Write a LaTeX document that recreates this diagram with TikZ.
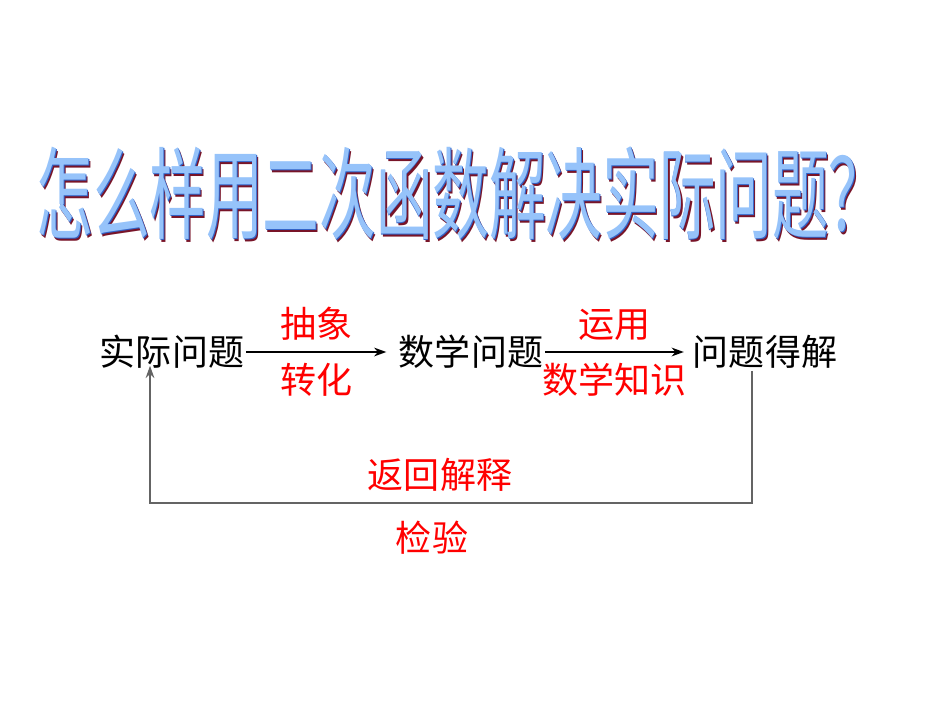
\documentclass[tikz,border=0pt]{standalone}
\usepackage{fontspec}
\setmainfont{Noto Sans CJK SC}
\usetikzlibrary{positioning, arrows.meta}
\definecolor{titleblue}{RGB}{150,195,250}
\definecolor{titleedge}{RGB}{50,100,200}
\definecolor{titleshade}{RGB}{120,20,40}
\definecolor{loopgray}{RGB}{100,100,100}
% word-art heading: dark red shade, blue rim, light blue face, all in one box
\newcommand{\wordart}[1]{%
  \makebox[0pt][l]{\hspace{0.07cm}\raisebox{-0.07cm}{\textcolor{titleshade}{#1}}}%
  \makebox[0pt][l]{\hspace{0.03cm}\raisebox{-0.03cm}{\textcolor{titleedge}{#1}}}%
  \textcolor{titleblue}{#1}}
\tikzset{
  >={Stealth[length=7pt,width=5pt]}, % small solid arrow heads
  stage/.style={font=\fontsize{20.5pt}{24pt}\selectfont, inner sep=1pt}, % the three problem boxes
  how/.style={font=\fontsize{20.5pt}{24pt}\selectfont, text=red, inner sep=6pt}, % red labels on the arrows
  title/.style={font=\fontsize{57pt}{60pt}\selectfont, xscale=0.565, inner sep=0pt}, % the word-art heading
}

\begin{document}
\begin{tikzpicture}[x=0.02cm, y=-0.02cm]
  \useasboundingbox (0,0) rectangle (950,713);

  % heading
  \node[title] (head) at (461,195) {\wordart{怎么样用二次函数解决实际问题？}};

  \node[stage] (shiji) at (172,352) {实际问题};
  \node[stage] (shuxue) at (471,352) {数学问题};
  \node[stage] (dejie) at (765,352) {问题得解};

  \draw[->, thick] (shiji.east) -- node[how, above]{抽象} node[how, below]{转化} ([xshift=-6pt]shuxue.west);
  \draw[->, thick] (shuxue.east) -- node[how, above]{运用} node[how, below]{数学知识} ([xshift=-4pt]dejie.west);

  % back to the real problem
  \coordinate (jieout) at ([xshift=-0.26cm]dejie.south);
  \coordinate (shijiin) at ([xshift=-0.44cm, yshift=0.1cm]shiji.south);
  \coordinate (low) at (0,503);
  \draw[->, thick, loopgray] (jieout) -- (jieout |- low)
    -- node[how, above, xshift=-0.22cm]{返回解释} node[how, below, xshift=-0.38cm, yshift=-4pt]{检验} (shijiin |- low)
    -- (shijiin);
\end{tikzpicture}
\end{document}
